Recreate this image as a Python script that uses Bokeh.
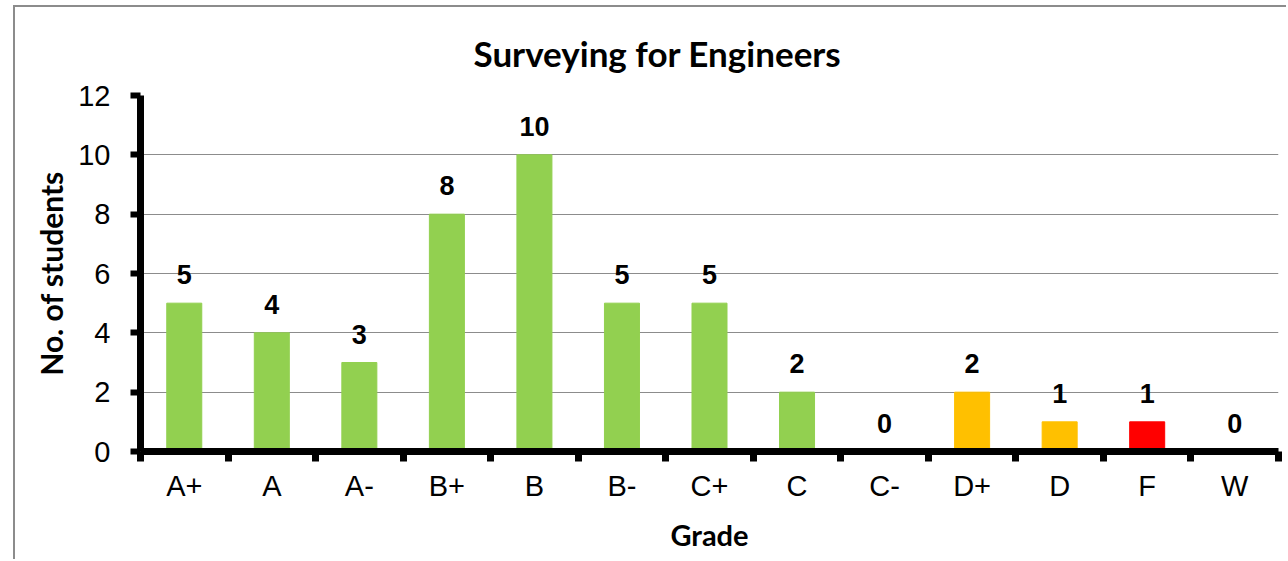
from bokeh.plotting import figure
from bokeh.models import Range1d, FixedTicker, ColumnDataSource, LabelSet
from bokeh.core.properties import value
from bokeh.embed import file_html
from bokeh.resources import INLINE

# ---- data ----
grades = ["A+", "A", "A-", "B+", "B", "B-", "C+", "C", "C-", "D+", "D", "F", "W"]
students = [5, 4, 3, 8, 10, 5, 5, 2, 0, 2, 1, 1, 0]
bar_colors = ["#92D050", "#92D050", "#92D050", "#92D050", "#92D050", "#92D050",
              "#92D050", "#92D050", "#92D050", "#FFC000", "#FFC000", "#FF0000", "#92D050"]
y_ticks = [0, 2, 4, 6, 8, 10, 12]
title_text = "Surveying for Engineers"
x_title = "Grade"
y_title = "No. of students"

n = len(grades)
centers = [i + 0.5 for i in range(n)]
bounds = [i for i in range(n + 1)]

src = ColumnDataSource(dict(x=centers, top=students, color=bar_colors,
                            label=[str(v) for v in students]))

p = figure(width=1273, height=554,
           x_range=Range1d(0, n), y_range=Range1d(y_ticks[0], y_ticks[-1]),
           output_backend="svg", toolbar_location=None,
           min_border_left=125, min_border_right=10,
           min_border_top=88, min_border_bottom=110,
           margin=(5, 0, 0, 13), title=title_text)
p.styles = {"border-left": "2px solid #8c8c8c", "border-top": "2px solid #8c8c8c"}

p.vbar(x="x", top="top", width=0.4, color="color", source=src)

labels = LabelSet(x="x", y="top", text="label", source=src,
                  text_align="center", text_baseline="alphabetic", y_offset=19,
                  text_font=value("Liberation Sans"), text_font_size="27px",
                  text_font_style="bold", text_color="black")
p.add_layout(labels)

# title
p.title.align = "left"
p.title.offset = 333
p.title.text_font = "Lato"
p.title.text_font_size = "35px"
p.title.text_font_style = "bold"
p.title.text_color = "black"
p.title.standoff = 43

p.outline_line_color = None
p.background_fill_color = "white"
p.border_fill_color = "white"

# grid
p.xgrid.visible = False
p.ygrid.ticker = FixedTicker(ticks=y_ticks)
p.ygrid.grid_line_color = "#8c8c8c"
p.ygrid.grid_line_width = 1

# x axis
xa = p.xaxis[0]
xa.ticker = FixedTicker(ticks=centers, minor_ticks=bounds)
xa.major_label_overrides = {c: g for c, g in zip(centers, grades)}
xa.major_tick_line_color = None
xa.major_tick_out = 10
xa.major_tick_in = 0
xa.minor_tick_line_color = "black"
xa.minor_tick_line_width = 7
xa.minor_tick_out = 10
xa.minor_tick_in = 0
xa.axis_line_color = "black"
xa.axis_line_width = 7
xa.major_label_text_font = "Liberation Sans"
xa.major_label_text_font_size = "29px"
xa.major_label_text_color = "black"
xa.major_label_standoff = 8
xa.axis_label = x_title
xa.axis_label_text_font = "Lato"
xa.axis_label_text_font_size = "29px"
xa.axis_label_text_font_style = "bold"
xa.axis_label_text_color = "black"
xa.axis_label_standoff = 12

# y axis
ya = p.yaxis[0]
ya.ticker = FixedTicker(ticks=y_ticks)
ya.major_tick_line_color = "black"
ya.major_tick_line_width = 6
ya.major_tick_out = 10
ya.major_tick_in = 0
ya.minor_tick_line_color = None
ya.axis_line_color = "black"
ya.axis_line_width = 7
ya.major_label_text_font = "Liberation Sans"
ya.major_label_text_font_size = "29px"
ya.major_label_text_color = "black"
ya.major_label_standoff = 20
ya.axis_label = y_title
ya.axis_label_text_font = "Lato"
ya.axis_label_text_font_size = "30px"
ya.axis_label_text_font_style = "bold"
ya.axis_label_text_color = "black"
ya.axis_label_standoff = 6

open("out.html", "w").write(file_html(p, INLINE))
